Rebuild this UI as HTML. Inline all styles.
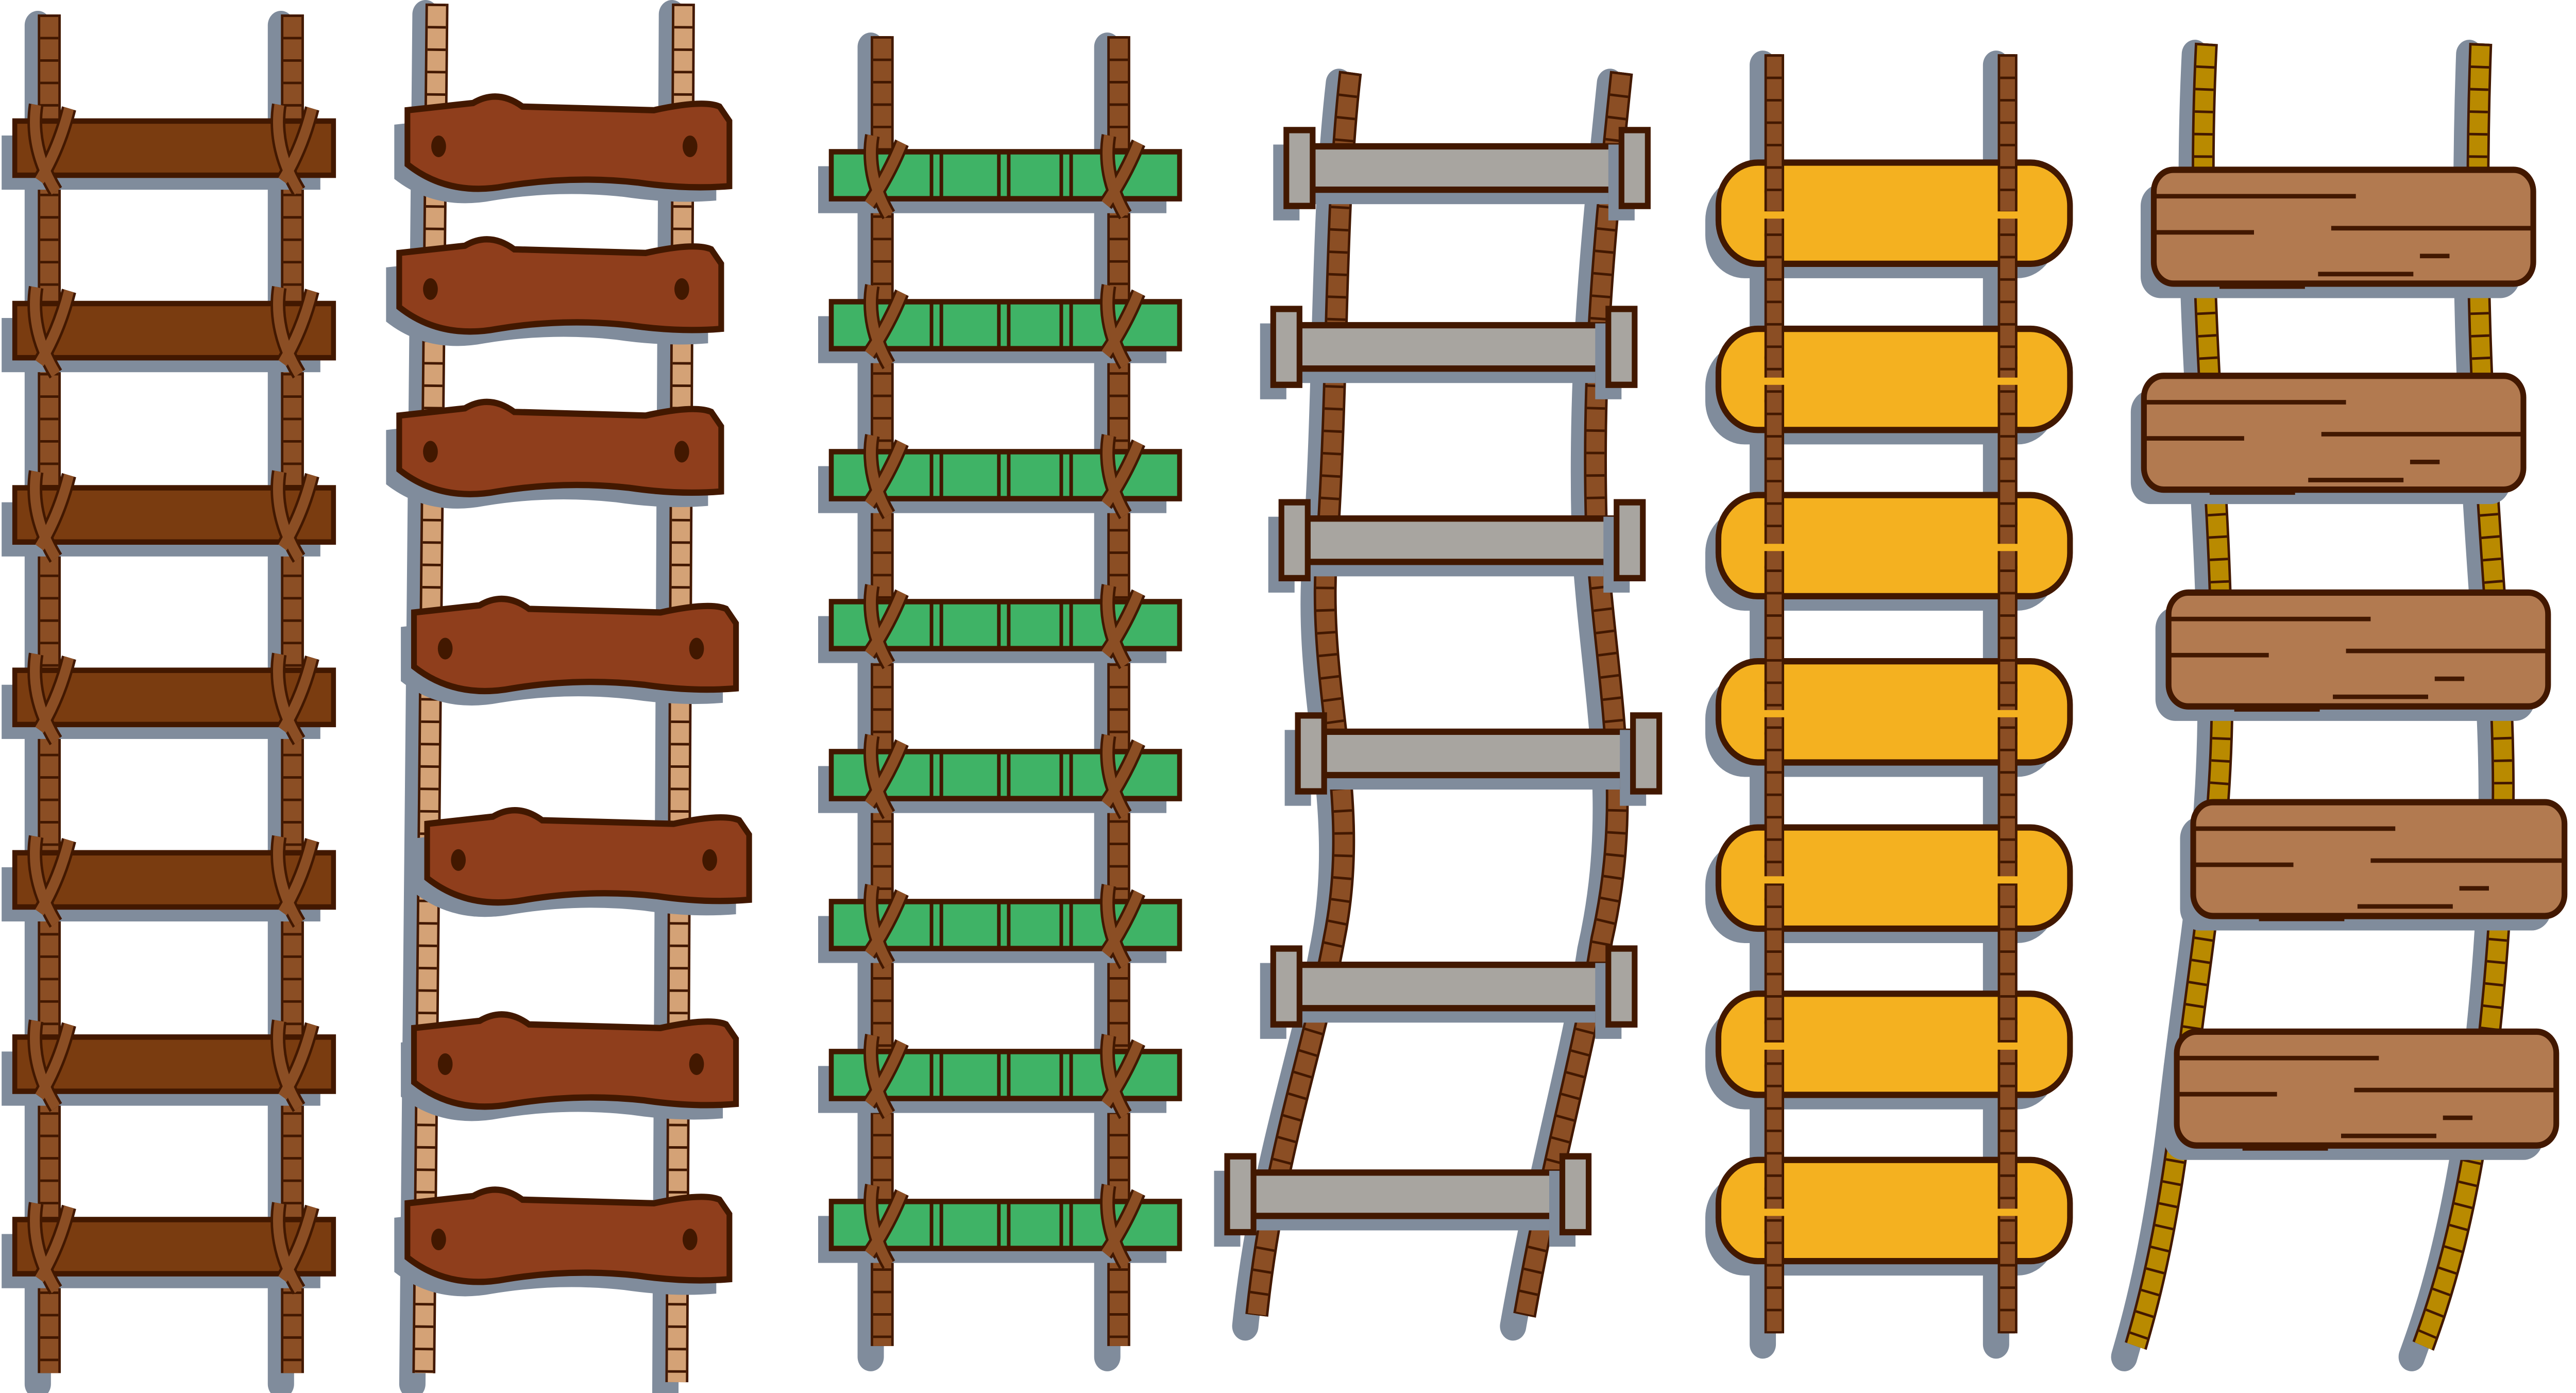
<!DOCTYPE html>
<html><head><meta charset="utf-8"><style>
html,body{margin:0;padding:0;background:#fff;width:100%;height:100%;overflow:hidden}
svg{display:block;position:fixed;left:0;top:0;width:100vw;height:100vh}
</style></head><body>
<svg viewBox="0 0 1568 771" preserveAspectRatio="none" xmlns="http://www.w3.org/2000/svg"><g id="s"></g></svg>
<script>
var O='#421800',SH='#808c9c';
var out='';
function rope(d,col,w){
  w=w||11;
  out+='<path d="'+d+'" transform="translate(-7,6)" fill="none" stroke="'+SH+'" stroke-width="'+(w+5)+'" stroke-linecap="round"/>';
}
function ropeFg(d,col,w){
  w=w||11;
  out+='<path d="'+d+'" fill="none" stroke="'+O+'" stroke-width="'+(w+3)+'" stroke-linecap="butt"/>';
  out+='<path d="'+d+'" fill="none" stroke="'+col+'" stroke-width="'+w+'" stroke-linecap="butt"/>';
  out+='<path d="'+d+'" fill="none" stroke="'+O+'" stroke-width="'+w+'" stroke-dasharray="1.4 11"/>';
}
function rect(x,y,w,h,f,sw,rx){
  out+='<rect x="'+(x-8)+'" y="'+(y+8)+'" width="'+w+'" height="'+h+'" rx="'+(rx||0)+'" fill="'+SH+'"/>';
  out+='<rect x="'+x+'" y="'+y+'" width="'+w+'" height="'+h+'" rx="'+(rx||0)+'" fill="'+f+'" stroke="'+O+'" stroke-width="'+sw+'"/>';
}
// Ladder 1
var r1=['M30 8 L30 760','M178 8 L178 760'];
r1.forEach(function(d){rope(d)});
r1.forEach(function(d){ropeFg(d,'#8b4e24')});
[82,183,285,386,487,589,690].forEach(function(c){
  rect(9,c-15,194,30,'#7a3c10',3);
  [30,178].forEach(function(x){
    var d='M'+(x-8)+' '+(c-24)+' Q'+(x-12)+' '+c+' '+(x+4)+' '+(c+24)+' M'+(x+12)+' '+(c-22)+' Q'+(x+6)+' '+c+' '+(x-6)+' '+(c+18);
    out+='<path d="'+d+'" fill="none" stroke="'+O+'" stroke-width="9"/><path d="'+d+'" fill="none" stroke="#8b4e24" stroke-width="6"/>';
  });
});
// Ladder 2
var r2=['M266 2 L258 760','M416 2 L412 765'];
r2.forEach(function(d){rope(d)});
r2.forEach(function(d){ropeFg(d,'#d4a276')});
[[248,55],[243,134],[243,224],[252,333],[260,450],[252,563],[248,660]].forEach(function(p){
  var x=p[0],y=p[1],w=196,h=48;
  var d='M'+x+' '+(y+6)+' L'+(x+40)+' '+(y+2)+' Q'+(x+55)+' '+(y-6)+' '+(x+70)+' '+(y+4)+' L'+(x+150)+' '+(y+6)+' Q'+(x+180)+' '+(y)+' '+(x+190)+' '+(y+4)+' L'+(x+w)+' '+(y+12)+' L'+(x+w)+' '+(y+h)+' Q'+(x+170)+' '+(y+h+2)+' '+(x+140)+' '+(y+h-2)+' Q'+(x+100)+' '+(y+h-6)+' '+(x+60)+' '+(y+h)+' Q'+(x+25)+' '+(y+h+6)+' '+(x)+' '+(y+h-12)+' Z';
  out+='<path d="'+d+'" transform="translate(-8,8)" fill="'+SH+'"/>';
  out+='<path d="'+d+'" fill="#8f3e1c" stroke="'+O+'" stroke-width="3.5"/>';
  out+='<ellipse cx="'+(x+19)+'" cy="'+(y+26)+'" rx="4.5" ry="6" fill="'+O+'"/>';
  out+='<ellipse cx="'+(x+w-24)+'" cy="'+(y+26)+'" rx="4.5" ry="6" fill="'+O+'"/>';
});
// Ladder 3
var r3=['M537 20 L537 745','M681 20 L681 745'];
r3.forEach(function(d){rope(d)});
r3.forEach(function(d){ropeFg(d,'#8b4e24')});
[97,180,263,346,429,512,595,678].forEach(function(c){
  rect(506,c-13,212,26,'#3fb366',3);
  [567,573,608,614,646,652].forEach(function(x){out+='<line x1="'+x+'" y1="'+(c-13)+'" x2="'+x+'" y2="'+(c+13)+'" stroke="'+O+'" stroke-width="2.2"/>';});
  [537,681].forEach(function(x){
    var d='M'+(x-6)+' '+(c-22)+' Q'+(x-10)+' '+c+' '+(x+4)+' '+(c+22)+' M'+(x+12)+' '+(c-18)+' Q'+(x+4)+' '+c+' '+(x-8)+' '+(c+16);
    out+='<path d="'+d+'" fill="none" stroke="'+O+'" stroke-width="9"/><path d="'+d+'" fill="none" stroke="#8b4e24" stroke-width="6"/>';
  });
});
// Ladder 4
var r4=['M822 40 C812 120 815 200 808 300 C800 380 830 440 812 520 C800 580 775 640 765 728','M987 40 C978 120 968 200 972 300 C978 380 995 440 975 520 C965 580 945 640 928 728'];
r4.forEach(function(d){rope(d)});
r4.forEach(function(d){ropeFg(d,'#8b4e24')});
[[783,93],[775,192],[780,299],[790,417],[775,546],[747,661]].forEach(function(p){
  var x=p[0],c=p[1],w=220;
  rect(x+16,c-12,w-32,24,'#a8a5a0',3.5);
  rect(x,c-21,16,42,'#a8a5a0',3.5);
  rect(x+w-16,c-21,16,42,'#a8a5a0',3.5);
});
// Ladder 5
var r5=['M1080 30 L1080 738','M1222 30 L1222 738'];
r5.forEach(function(d){rope(d)});
[118,210,302,394,486,578,670].forEach(function(c){
  rect(1046,c-28,214,56,'#f4b120',3.5,24);
  [1080,1222].forEach(function(x){
    out+='<ellipse cx="'+x+'" cy="'+(c-12)+'" rx="6" ry="9" fill="'+O+'"/><ellipse cx="'+x+'" cy="'+(c+12)+'" rx="6" ry="9" fill="'+O+'"/>';
  });
});
r5.forEach(function(d){ropeFg(d,'#8b4e24',9)});
[118,210,302,394,486,578,670].forEach(function(c){
  [1080,1222].forEach(function(x){
    out+='<rect x="'+(x-8)+'" y="'+(c-1)+'" width="16" height="4" fill="#f4b120"/>';
  });
});
// Ladder 6
var r6=['M1343 24 C1336 150 1350 250 1352 350 C1356 450 1340 520 1330 600 C1320 680 1308 720 1300 745','M1510 24 C1505 150 1512 250 1520 350 C1528 450 1522 520 1512 600 C1500 680 1485 720 1475 745'];
r6.forEach(function(d){rope(d)});
r6.forEach(function(d){ropeFg(d,'#b98a00')});
[[1311,94,231],[1305,208,231],[1320,328,231],[1335,444,226],[1325,571,231]].forEach(function(p){
  var x=p[0],y=p[1],w=p[2];
  rect(x,y,w,63,'#b27a50',3.5,12);
  var L=[[0,19,123],[0,45,61],[108,42,w],[162,62,180],[100,75,158],[40,84,92]];
  L.forEach(function(l){out+='<line x1="'+(x+l[0])+'" y1="'+(y+l[1]/1.3)+'" x2="'+(x+l[2])+'" y2="'+(y+l[1]/1.3)+'" stroke="'+O+'" stroke-width="2.5"/>';});
});
document.getElementById('s').innerHTML=out;
</script>
</body></html>
